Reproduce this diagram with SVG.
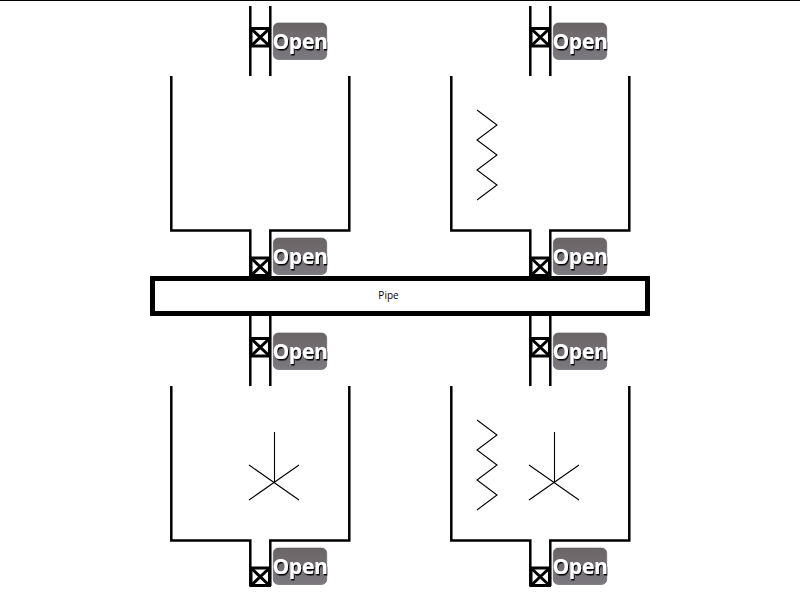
<svg xmlns="http://www.w3.org/2000/svg" width="800" height="600" viewBox="0 0 800 600">
<defs>
<linearGradient id="g" x1="0" y1="0" x2="0" y2="1"><stop offset="0" stop-color="#6b6466"/><stop offset="1" stop-color="#7b787f"/></linearGradient>
<filter id="s" x="-20%" y="-20%" width="140%" height="140%"><feDropShadow dx="1" dy="1.500" stdDeviation="0.700" flood-color="#000" flood-opacity="1"/></filter>
<g id="valve"><rect x="-9" y="-8.500" width="18.500" height="17.500" fill="#fff" stroke="#000" stroke-width="3"/><path d="M-9-8.500 9.500 9M9.500-8.500-9 9" fill="none" stroke="#000" stroke-width="3"/></g>
<g id="btn"><rect x="0.300" y="0" width="53.400" height="36.500" rx="5" fill="url(#g)" stroke="#5c5a5e" stroke-width="0.600"/><text x="27" y="25.500" class="o">Open</text></g>
<path id="tank" d="M171.300 76V230.500H250.300V276M349.300 76V230.500H270.300V276"/>
<path id="pipes" d="M250.300 6V76M270.300 6V76"/>
<path id="zig" d="M0 0 20 15 0 30 20 45 0 60 20 75 0 90"/>
<path id="star" d="M25.500 0V50M0 33 50 68M50 33 0 68"/>
</defs>
<style>
.l{fill:none;stroke:#000;stroke-width:2.500}
.t{fill:none;stroke:#000;stroke-width:1.100}
.o{font:bold 21px "Open Sans",sans-serif;letter-spacing:-.25px;fill:#fff;text-anchor:middle;filter:url(#s)}
.p{font:10px "Open Sans",sans-serif;fill:#000;text-anchor:middle}
</style>
<rect width="800" height="600" fill="#fff"/>
<path d="M0 .5H800" stroke="#000" stroke-width="1"/>
<g id="connectors">
<use href="#pipes" class="l"/><use href="#pipes" class="l" x="280"/>
<use href="#pipes" class="l" y="310"/><use href="#pipes" class="l" x="280" y="310"/>
</g>
<g id="tank-1"><use href="#tank" class="l"/></g>
<g id="tank-2"><use href="#tank" class="l" x="280"/><use href="#zig" class="t" x="477" y="110"/></g>
<g id="tank-3"><use href="#tank" class="l" y="310"/><use href="#star" class="t" x="249" y="432"/></g>
<g id="tank-4"><use href="#tank" class="l" x="280" y="310"/><use href="#zig" class="t" x="477" y="420"/><use href="#star" class="t" x="529" y="432"/></g>
<g id="valve-1"><use href="#valve" x="260" y="37"/><use href="#btn" x="273" y="23"/></g>
<g id="valve-2"><use href="#valve" x="540" y="37"/><use href="#btn" x="553" y="23"/></g>
<g id="valve-3"><use href="#valve" x="260" y="266.500"/><use href="#btn" x="273" y="238"/></g>
<g id="valve-4"><use href="#valve" x="540" y="266.500"/><use href="#btn" x="553" y="238"/></g>
<g id="valve-5"><use href="#valve" x="260" y="347"/><use href="#btn" x="273" y="333"/></g>
<g id="valve-6"><use href="#valve" x="540" y="347"/><use href="#btn" x="553" y="333"/></g>
<g id="valve-7"><use href="#valve" x="260" y="576.500"/><use href="#btn" x="273" y="548"/></g>
<g id="valve-8"><use href="#valve" x="540" y="576.500"/><use href="#btn" x="553" y="548"/></g>
<g id="pipe"><rect x="152.500" y="278.500" width="495" height="35" fill="#fff" stroke="#000" stroke-width="5"/><text x="388.500" y="299" class="p">Pipe</text></g>
</svg>
